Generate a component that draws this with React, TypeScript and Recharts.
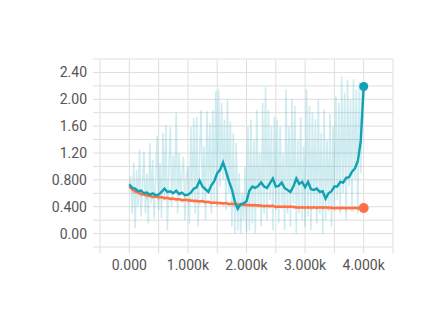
import { CartesianGrid, Line, LineChart, XAxis, YAxis } from "recharts";

// smoothed runs are sampled every 50 steps, the raw teal run every 25
const SMOOTH_STEP = 50;
const RAW_STEP = 25;

const tealSmooth = [
  0.73, 0.68, 0.67, 0.63, 0.64, 0.6, 0.61, 0.58, 0.6, 0.57,
  0.58, 0.62, 0.67, 0.62, 0.63, 0.6, 0.64, 0.59, 0.61, 0.57,
  0.58, 0.61, 0.67, 0.69, 0.79, 0.7, 0.66, 0.62, 0.72, 0.78,
  0.9, 0.95, 1.06, 0.93, 0.78, 0.66, 0.48, 0.37, 0.44, 0.45,
  0.48, 0.64, 0.7, 0.68, 0.71, 0.76, 0.7, 0.68, 0.75, 0.82,
  0.7, 0.71, 0.76, 0.68, 0.65, 0.62, 0.7, 0.82, 0.74, 0.77,
  0.69, 0.77, 0.66, 0.65, 0.67, 0.62, 0.63, 0.52, 0.6, 0.63,
  0.7, 0.7, 0.77, 0.76, 0.83, 0.84, 0.92, 0.97, 1.08, 1.38,
  2.19,
];

const orangeSmooth = [
  0.7, 0.66, 0.63, 0.61, 0.59, 0.58, 0.57, 0.56, 0.55, 0.55,
  0.54, 0.54, 0.53, 0.53, 0.52, 0.52, 0.51, 0.51, 0.5, 0.5,
  0.5, 0.49, 0.49, 0.48, 0.48, 0.48, 0.47, 0.47, 0.46, 0.46,
  0.46, 0.45, 0.45, 0.45, 0.44, 0.44, 0.44, 0.43, 0.43, 0.43,
  0.43, 0.42, 0.42, 0.42, 0.42, 0.41, 0.41, 0.41, 0.41, 0.41,
  0.4, 0.4, 0.4, 0.4, 0.4, 0.4, 0.4, 0.39, 0.39, 0.39,
  0.39, 0.39, 0.39, 0.39, 0.39, 0.39, 0.39, 0.39, 0.39, 0.38,
  0.38, 0.38, 0.38, 0.38, 0.38, 0.38, 0.38, 0.38, 0.38, 0.38,
  0.38,
];

const orangeRaw = [
  0.72, 0.63, 0.6, 0.64, 0.56, 0.6, 0.53, 0.58, 0.52, 0.57,
  0.51, 0.56, 0.5, 0.55, 0.49, 0.54, 0.48, 0.53, 0.47, 0.52,
  0.47, 0.51, 0.46, 0.51, 0.45, 0.5, 0.44, 0.49, 0.44, 0.49,
  0.43, 0.48, 0.42, 0.47, 0.42, 0.47, 0.41, 0.46, 0.41, 0.45,
  0.4, 0.45, 0.4, 0.44, 0.39, 0.44, 0.39, 0.43, 0.38, 0.43,
  0.38, 0.42, 0.38, 0.42, 0.37, 0.42, 0.37, 0.41, 0.37, 0.41,
  0.36, 0.41, 0.36, 0.41, 0.36, 0.4, 0.36, 0.4, 0.35, 0.4,
  0.35, 0.4, 0.35, 0.4, 0.35, 0.4, 0.34, 0.4, 0.35, 0.39,
  0.38,
];

const tealRaw = [
  0.72, 0.85, 0.3, 1.06, 0.08, 0.95, 0.4, 1.25, 0.25, 0.7,
  1.22, 0.3, 0.9, 0.15, 1.35, 0.45, 1.1, 0.22, 0.8, 1.45,
  0.35, 1.05, 0.23, 1.5, 0.5, 1.62, 0.05, 0.95, 1.59, 0.4,
  1.17, 0.6, 1.8, 0.3, 1.2, 0.55, 0.9, 1.14, 0.2, 0.85,
  1.0, 0.15, 1.59, 0.5, 1.72, 0.3, 1.74, 0.1, 1.2, 1.84,
  0.45, 1.3, 0.2, 1.82, 0.6, 1.65, 0.3, 1.84, 0.5, 2.12,
  0.4, 2.15, 0.7, 1.95, 0.8, 1.7, 0.35, 2.0, 0.6, 1.67,
  0.1, 1.5, 0.0, 1.35, 0.05, 0.9, 0.0, 0.6, 0.2, 1.0,
  0.02, 1.59, 0.05, 1.7, 0.15, 1.4, 0.0, 1.84, 0.4, 1.2,
  0.1, 1.95, 0.3, 2.19, 0.2, 1.84, 0.5, 1.6, 0.05, 1.74,
  0.35, 1.7, 0.15, 1.59, 0.4, 1.2, 0.05, 2.15, 0.3, 1.6,
  0.1, 2.0, 0.45, 1.9, 0.0, 1.4, 0.3, 1.74, 0.2, 1.3,
  0.1, 2.15, 0.25, 1.9, 0.05, 1.8, 0.4, 1.7, 0.15, 2.0,
  0.3, 1.5, 0.0, 1.85, 0.2, 1.4, 0.35, 1.78, 0.1, 1.6,
  0.4, 2.04, 0.5, 1.95, 0.3, 2.34, 0.6, 2.1, 0.2, 2.29,
  0.7, 2.0, 0.4, 2.3, 0.8, 2.15, 0.3, 2.25, 0.9, 2.2,
  2.19,
];

const xTicks = [-500, 0, 500, 1000, 1500, 2000, 2500, 3000, 3500, 4000, 4500];
const xLabels: Record<number, string> = {
  0: "0.000",
  1000: "1.000k",
  2000: "2.000k",
  3000: "3.000k",
  4000: "4.000k",
};
const yTicks = [-0.2, 0, 0.2, 0.4, 0.6, 0.8, 1, 1.2, 1.4, 1.6, 1.8, 2, 2.2, 2.4, 2.6];
const yLabels: Record<string, string> = {
  "0": "0.00",
  "0.4": "0.400",
  "0.8": "0.800",
  "1.2": "1.20",
  "1.6": "1.60",
  "2": "2.00",
  "2.4": "2.40",
};

const smoothData = tealSmooth.map((v, i) => ({
  step: i * SMOOTH_STEP,
  teal: v,
  orange: orangeSmooth[i],
  orangeRaw: orangeRaw[i],
}));
const rawData = tealRaw.map((v, i) => ({ step: i * RAW_STEP, tealRaw: v }));

const TEAL = "#0fa2b3";
const ORANGE = "#ff7043";
const GRID = "#dedede";
const tickStyle = { fontFamily: "Roboto, sans-serif", fontSize: 14, fill: "#555" };

function endDot(color: string, r: number, last: number) {
  return (props: any) => {
    if (props.index !== last) return <g key={props.index} />;
    return <circle key={props.index} cx={props.cx} cy={props.cy} r={r} fill={color} />;
  };
}

export default function App() {
  const last = smoothData.length - 1;
  return (
    <LineChart width={427} height={306} data={smoothData} margin={{ top: 51, right: 42, bottom: 37, left: 32 }}>
      <CartesianGrid stroke={GRID} verticalValues={xTicks} horizontalValues={yTicks} />
      <XAxis
        dataKey="step"
        type="number"
        domain={[-500, 4500]}
        ticks={xTicks}
        interval={0}
        tickFormatter={(v: number) => xLabels[v] ?? ""}
        axisLine={false}
        tickLine={{ stroke: GRID }}
        tickSize={6}
        tickMargin={7}
        tick={tickStyle}
        height={30}
        allowDataOverflow
      />
      <YAxis
        type="number"
        domain={[-0.2, 2.6]}
        ticks={yTicks}
        interval={0}
        tickFormatter={(v: number) => yLabels[String(Math.round(v * 10) / 10)] ?? ""}
        axisLine={false}
        tickLine={{ stroke: GRID }}
        tickSize={7}
        tickMargin={6}
        tick={tickStyle}
        width={60}
        allowDataOverflow
      />
      <Line
        data={rawData}
        dataKey="tealRaw"
        stroke={TEAL}
        strokeOpacity={0.2}
        strokeWidth={1.6}
        dot={false}
        isAnimationActive={false}
      />
      <Line
        dataKey="orangeRaw"
        stroke={ORANGE}
        strokeOpacity={0.3}
        strokeWidth={1.5}
        dot={false}
        isAnimationActive={false}
      />
      <Line
        dataKey="orange"
        stroke={ORANGE}
        strokeWidth={2.5}
        dot={endDot(ORANGE, 5, last)}
        isAnimationActive={false}
      />
      <Line
        dataKey="teal"
        stroke={TEAL}
        strokeWidth={2.4}
        dot={endDot(TEAL, 4.5, last)}
        isAnimationActive={false}
      />
    </LineChart>
  );
}
